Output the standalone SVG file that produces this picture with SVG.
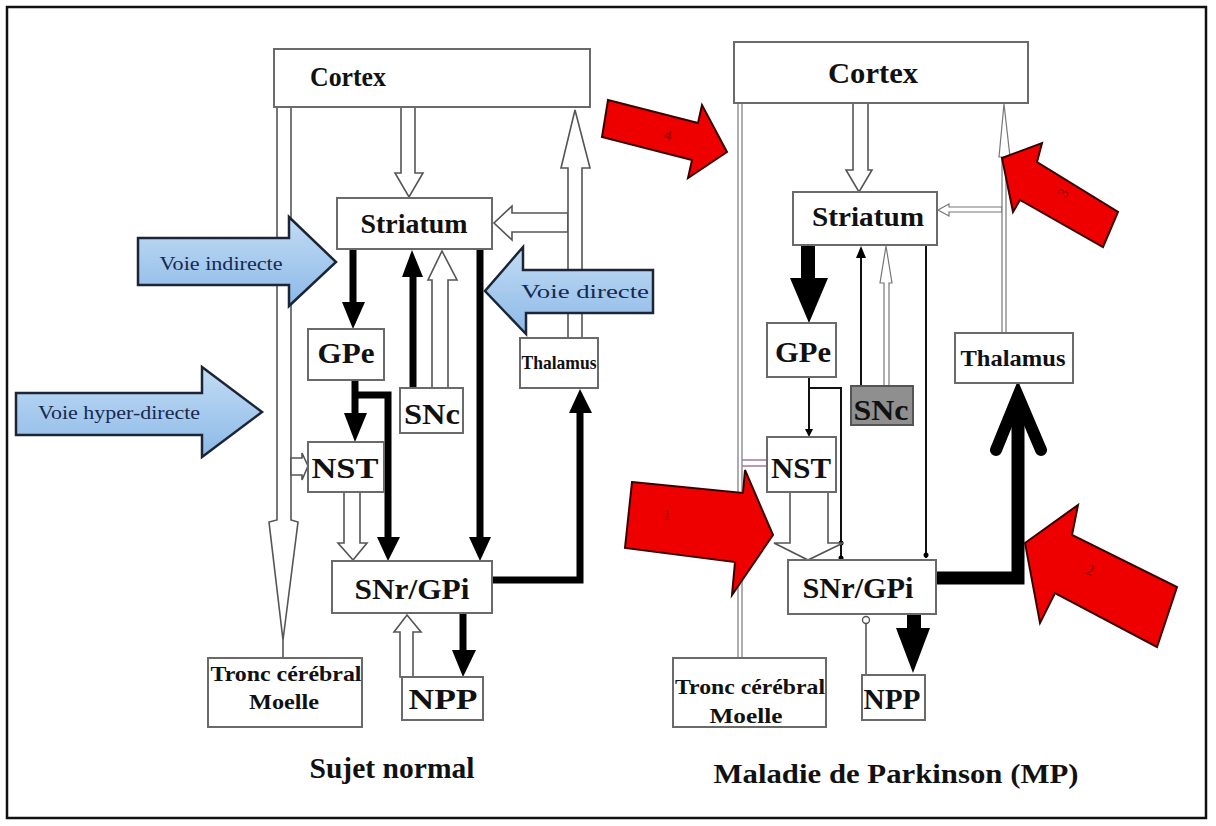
<svg xmlns="http://www.w3.org/2000/svg" width="1216" height="826" viewBox="0 0 1216 826">
<defs>
<linearGradient id="blueg" x1="0" y1="0" x2="0" y2="1">
<stop offset="0" stop-color="#c2dcf4"/>
<stop offset="1" stop-color="#8cb9e8"/>
</linearGradient>
<style>
.box{fill:#fff;stroke:#6a6a6a;stroke-width:2}
.lbl{font-family:'Liberation Serif','Times New Roman',Times,serif;font-weight:700;fill:#111;text-anchor:middle}
.open{fill:#fff;stroke:#555;stroke-width:1.6;stroke-linejoin:miter}
.thinopen{fill:#fff;stroke:#777;stroke-width:1.2}
.thk{fill:none;stroke:#000;stroke-width:7}
.thin{fill:none;stroke:#111;stroke-width:2}
.head{fill:#000;stroke:none}
.blue{fill:url(#blueg);stroke:#1c2536;stroke-width:2.5;stroke-linejoin:miter}
.btxt{font-family:'Liberation Serif','Times New Roman',Times,serif;fill:#17294d;text-anchor:middle;font-size:19px}
.red{fill:#ee0000;stroke:#3a0000;stroke-width:2;stroke-linejoin:miter}
.rtxt{font-family:'Liberation Serif','Times New Roman',Times,serif;fill:#8a0000;text-anchor:middle;font-size:15px}
</style>
</defs>
<rect x="0" y="0" width="1216" height="826" fill="#fff"/>
<rect x="7" y="7" width="1199" height="811" fill="none" stroke="#111" stroke-width="2.5"/>

<g id="connectors">
<polygon class="open" points="401,107 401,173 395,173 409,197 423,173 415,173 415,107"/>
<polygon class="open" points="568,213 512,213 512,206 494,223 512,240 512,232 568,232"/>
<polygon class="open" points="568,338 568,168 561,168 575,110 590,168 582,168 582,338"/>
<polygon class="open" points="277,107 277,520 269,522 283,640 298,522 291,520 291,107"/>
<line x1="283" y1="640" x2="283" y2="658" stroke="#555" stroke-width="1.6"/>
<polygon class="open" points="291,458 302,458 302,453 308,466 302,480 302,475 291,475"/>
<line class="thk" x1="353" y1="249" x2="353" y2="304"/>
<polygon class="head" points="342,302 353,329 365,302"/>
<line class="thk" x1="413" y1="388" x2="413" y2="274"/>
<polygon class="head" points="402,277 412,250 423,277"/>
<polygon class="open" points="432,388 432,280 428,280 442,251 457,280 448,280 448,388"/>
<line class="thk" x1="480" y1="249" x2="480" y2="539"/>
<polygon class="head" points="469,537 480,561 491,537"/>
<line class="thk" x1="355" y1="380" x2="355" y2="415"/>
<polygon class="head" points="344,413 355,442 367,413"/>
<path class="thk" d="M355,395 H388 V539"/>
<polygon class="head" points="377,537 388,561 400,537"/>
<polygon class="open" points="344,492 344,543 338,543 353,560 367,543 360,543 360,492"/>
<path class="thk" d="M492,580 H580 V411"/>
<polygon class="head" points="569,413 580,389 592,413"/>
<polygon class="open" points="400,677 400,632 394,632 407,615 421,632 413,632 413,677"/>
<line class="thk" x1="463" y1="613" x2="463" y2="652"/>
<polygon class="head" points="452,650 463,677 476,650"/>

<polygon class="open" points="853,103 853,170 846,170 859,192 872,170 868,170 868,103"/>
<rect class="thinopen" x="738" y="103" width="4" height="555"/>
<polygon class="thinopen" points="1002,207 949,207 949,204 938,210 949,216 949,212 1002,212"/>
<polygon class="thinopen" points="1002,333 1002,157 999,157 1004,104 1010,157 1006,157 1006,333"/>
<rect x="801" y="245" width="14" height="36" fill="#000"/>
<polygon class="head" points="790,278 809,323 828,278"/>
<line class="thin" x1="861" y1="386" x2="861" y2="256"/>
<polygon class="head" points="856,258 861,246 866,258"/>
<polygon class="thinopen" points="884,386 884,283 880,283 886,246 892,283 889,283 889,386"/>
<line class="thin" x1="926" y1="245" x2="926" y2="558"/>
<circle cx="926" cy="555" r="2.5" fill="#000"/>
<line class="thin" x1="809" y1="377" x2="809" y2="432"/>
<polygon class="head" points="805,429 809,437 813,429"/>
<path class="thin" d="M809,388 H841 V559"/>
<circle cx="841" cy="543" r="2.5" fill="#000"/>
<circle cx="841" cy="558" r="2.5" fill="#000"/>
<polygon class="open" points="790,492 790,543 774,543 808,560 843,543 828,543 828,492"/>
<line x1="742" y1="460" x2="767" y2="460" stroke="#a07a98" stroke-width="1.5"/>
<line x1="742" y1="466" x2="767" y2="466" stroke="#a07a98" stroke-width="1.5"/>
<path d="M936,578 H1018 V398" fill="none" stroke="#000" stroke-width="13"/>
<polyline points="996,450 1018,396 1041,450" fill="none" stroke="#000" stroke-width="12" stroke-linecap="round" stroke-linejoin="miter"/>
<rect x="907" y="613" width="14" height="17" fill="#000"/>
<polygon class="head" points="896,628 913,673 930,628"/>
<line x1="866" y1="675" x2="866" y2="624" stroke="#777" stroke-width="2"/>
<circle cx="866" cy="620" r="3.5" fill="#fff" stroke="#555" stroke-width="1.4"/>
</g>

<g id="cortex-n">
<rect class="box" x="274" y="49" width="316" height="58"/>
<text class="lbl" x="348" y="86" font-size="28" textLength="76" lengthAdjust="spacingAndGlyphs">Cortex</text>
</g>
<g id="striatum-n">
<rect class="box" x="337" y="198" width="155" height="51"/>
<text class="lbl" x="414" y="233" font-size="28" textLength="107" lengthAdjust="spacingAndGlyphs">Striatum</text>
</g>
<g id="gpe-n">
<rect class="box" x="308" y="329" width="76" height="51"/>
<text class="lbl" x="346" y="363" font-size="29" textLength="57" lengthAdjust="spacingAndGlyphs">GPe</text>
</g>
<g id="snc-n">
<rect class="box" x="400" y="388" width="63" height="45"/>
<text class="lbl" x="432" y="424" font-size="30" textLength="56" lengthAdjust="spacingAndGlyphs">SNc</text>
</g>
<g id="thalamus-n">
<rect class="box" x="520" y="338" width="78" height="50"/>
<text class="lbl" x="559" y="369" font-size="19" textLength="75" lengthAdjust="spacingAndGlyphs">Thalamus</text>
</g>
<g id="nst-n">
<rect class="box" x="308" y="442" width="76" height="50"/>
<text class="lbl" x="345" y="478" font-size="29" textLength="67" lengthAdjust="spacingAndGlyphs">NST</text>
</g>
<g id="snrgpi-n">
<rect class="box" x="332" y="561" width="160" height="52"/>
<text class="lbl" x="412" y="599" font-size="29" textLength="115" lengthAdjust="spacingAndGlyphs">SNr/GPi</text>
</g>
<g id="npp-n">
<rect class="box" x="402" y="677" width="81" height="43"/>
<text class="lbl" x="443" y="709" font-size="29" textLength="69" lengthAdjust="spacingAndGlyphs">NPP</text>
</g>
<g id="tronc-n">
<rect class="box" x="208" y="658" width="154" height="69"/>
<text class="lbl" x="286" y="681" font-size="21" textLength="151" lengthAdjust="spacingAndGlyphs">Tronc cérébral</text>
<text class="lbl" x="284" y="709" font-size="21" textLength="70" lengthAdjust="spacingAndGlyphs">Moelle</text>
</g>
<g id="title-normal">
<text class="lbl" x="392" y="778" font-size="29" textLength="165" lengthAdjust="spacingAndGlyphs">Sujet normal</text>
</g>

<g id="cortex-p">
<rect class="box" x="734" y="42" width="294" height="61"/>
<text class="lbl" x="873" y="83" font-size="29" textLength="90" lengthAdjust="spacingAndGlyphs">Cortex</text>
</g>
<g id="striatum-p">
<rect class="box" x="793" y="192" width="144" height="53"/>
<text class="lbl" x="868" y="226" font-size="28" textLength="112" lengthAdjust="spacingAndGlyphs">Striatum</text>
</g>
<g id="gpe-p">
<rect class="box" x="767" y="323" width="69" height="54"/>
<text class="lbl" x="803" y="362" font-size="29" textLength="56" lengthAdjust="spacingAndGlyphs">GPe</text>
</g>
<g id="snc-p">
<rect x="851" y="386" width="62" height="39" fill="#8f8f8f" stroke="#555" stroke-width="2"/>
<text class="lbl" x="881" y="420" font-size="29" textLength="55" lengthAdjust="spacingAndGlyphs" fill="#1a1a2a">SNc</text>
</g>
<g id="thalamus-p">
<rect class="box" x="955" y="333" width="118" height="50"/>
<text class="lbl" x="1013" y="366" font-size="24" textLength="105" lengthAdjust="spacingAndGlyphs">Thalamus</text>
</g>
<g id="nst-p">
<rect class="box" x="767" y="437" width="69" height="55"/>
<text class="lbl" x="801" y="478" font-size="29" textLength="60" lengthAdjust="spacingAndGlyphs">NST</text>
</g>
<g id="snrgpi-p">
<rect class="box" x="788" y="560" width="148" height="54"/>
<text class="lbl" x="858" y="598" font-size="29" textLength="111" lengthAdjust="spacingAndGlyphs">SNr/GPi</text>
</g>
<g id="npp-p">
<rect class="box" x="862" y="675" width="63" height="45"/>
<text class="lbl" x="892" y="709" font-size="29" textLength="57" lengthAdjust="spacingAndGlyphs">NPP</text>
</g>
<g id="tronc-p">
<rect class="box" x="673" y="658" width="153" height="69"/>
<text class="lbl" x="750" y="694" font-size="21" textLength="150" lengthAdjust="spacingAndGlyphs">Tronc cérébral</text>
<text class="lbl" x="746" y="723" font-size="21" textLength="73" lengthAdjust="spacingAndGlyphs">Moelle</text>
</g>
<g id="title-mp">
<text class="lbl" x="896" y="783" font-size="28" textLength="365" lengthAdjust="spacingAndGlyphs">Maladie de Parkinson (MP)</text>
</g>

<g id="voie-indirecte">
<polygon class="blue" points="138,238 289,238 289,217 336,262 289,306 289,285 138,285"/>
<text class="btxt" x="221" y="270" textLength="123" lengthAdjust="spacingAndGlyphs">Voie indirecte</text>
</g>
<g id="voie-directe">
<polygon class="blue" points="653,270 523,270 523,247 485,291 526,334 526,313 653,313"/>
<text class="btxt" x="585" y="298" textLength="128" lengthAdjust="spacingAndGlyphs">Voie directe</text>
</g>
<g id="voie-hyper-directe">
<polygon class="blue" points="16,393 202,393 202,367 262,412 202,457 202,435 16,435"/>
<text class="btxt" x="119" y="419" textLength="162" lengthAdjust="spacingAndGlyphs">Voie hyper-directe</text>
</g>

<g id="red-4">
<polygon class="red" points="608,100 698,123 702,105 727,152 688,178 692,160 602,137"/>
<text class="rtxt" x="668" y="140" transform="rotate(14 668 135)">4</text>
</g>
<g id="red-3">
<polygon class="red" points="1002,158 1042,143 1037,162 1118,212 1103,247 1020,200 1013,212"/>
<text class="rtxt" x="1063" y="198" transform="rotate(-58 1063 193)">3</text>
</g>
<g id="red-1">
<polygon class="red" points="632,482 743,493 745,470 773,535 732,595 735,562 625,548"/>
<text class="rtxt" x="667" y="520">1</text>
</g>
<g id="red-2">
<polygon class="red" points="1025,543 1078,505 1072,535 1177,587 1157,647 1055,593 1040,623"/>
<text class="rtxt" x="1090" y="575" transform="rotate(20 1090 570)">2</text>
</g>
</svg>
